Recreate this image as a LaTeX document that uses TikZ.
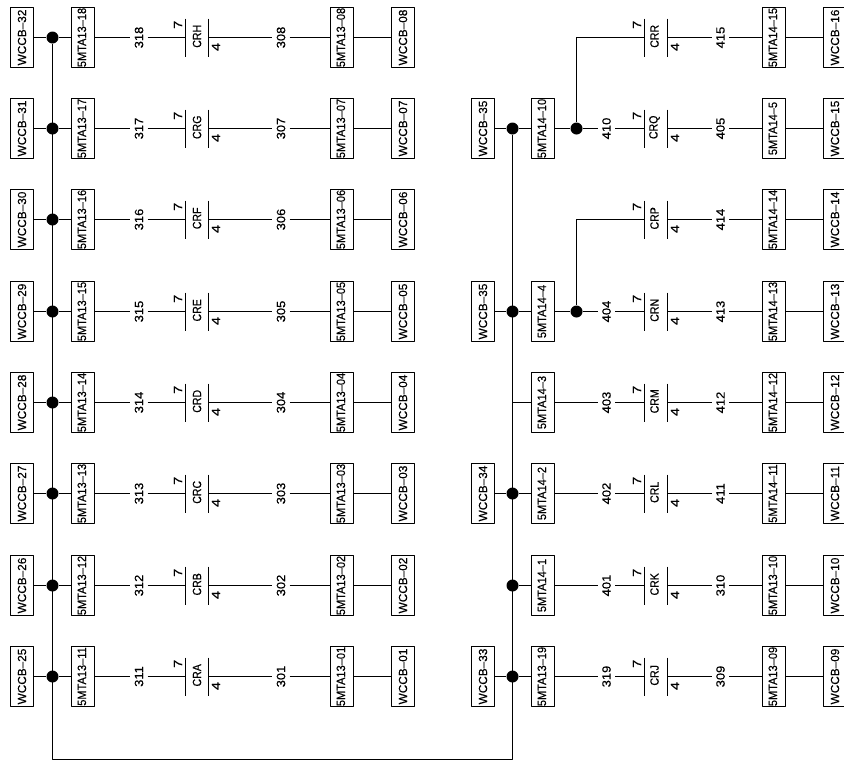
\documentclass[tikz,border=0pt]{standalone}
\usepackage{fontspec}
\setmainfont{Liberation Sans}
\newfontfamily\wcfont{Liberation Sans}[FakeBold=0.25]
\newfontfamily\mtfont{Liberation Sans}[FakeBold=0.25,FakeStretch=0.92]
\newfontfamily\wirefont{Liberation Sans}[FakeBold=0.25,FakeStretch=1.08]
\newfontfamily\pinfont{Liberation Sans}[FakeBold=0.25,FakeStretch=1.22]
\newfontfamily\crfont{Liberation Sans}[FakeBold=0.25,FakeStretch=0.88]
\tikzset{
  wcbox/.style={draw,rotate=90,minimum width=60pt,minimum height=23pt,inner sep=0pt,font=\wcfont\fontsize{11.8}{12}\selectfont},
  mtbox/.style={wcbox,text height=8pt,text depth=2pt,font=\mtfont\fontsize{12}{12}\selectfont},
  wirelab/.style={rotate=90,inner sep=0pt,minimum height=16pt,font=\wirefont\fontsize{12}{13}\selectfont},
  pinlab/.style={rotate=90,inner sep=0pt,font=\pinfont\fontsize{12}{13}\selectfont},
  crlab/.style={rotate=90,inner sep=0pt,font=\crfont\fontsize{12}{13}\selectfont},
  dotj/.style={circle,fill=black,inner sep=0pt,minimum size=12pt},
}
\begin{document}
\begin{tikzpicture}[x=1pt,y=-1pt,line width=1.2pt,line join=round]
  \useasboundingbox (0,0) rectangle (844,761);
  \def\ytop{37.2} \def\ystep{91.35}
  \coordinate (bl) at (52.5,759.5);
  \coordinate (br) at (512.5,759.5);
  % left column
  \foreach \i/\wa/\ma/\la/\cr/\lb/\mb/\wb in {1/32/18/318/CRH/308/08/08,2/31/17/317/CRG/307/07/07,
      3/30/16/316/CRF/306/06/06,4/29/15/315/CRE/305/05/05,5/28/14/314/CRD/304/04/04,
      6/27/13/313/CRC/303/03/03,7/26/12/312/CRB/302/02/02,8/25/11/311/CRA/301/01/01}{
    \pgfmathsetmacro\y{floor(\ytop+\ystep*(\i-1))+0.5}
    \node[wcbox] (wl\i) at (22,\y) {WCCB–\wa};
    \node[dotj] (jl\i) at (52.5,\y) {};
    \node[mtbox] (ml\i) at (83,\y) {5MTA13–\ma};
    \node[wirelab] (al\i) at (139,\y) {\la};
    \coordinate (pl\i) at (185.5,\y);
    \coordinate (ql\i) at (208.5,\y);
    \node[pinlab] (sl\i) at (178,\y-12.7) {7};
    \node[crlab] (cl\i) at (197,\y-1.2) {\cr};
    \node[pinlab] (fl\i) at (216,\y+9.5) {4};
    \node[wirelab] (bl\i) at (281,\y) {\lb};
    \node[mtbox] (nl\i) at (342,\y) {5MTA13–\mb};
    \node[wcbox] (xl\i) at (403,\y) {WCCB–\wb};
    \draw (wl\i) -- (jl\i) -- (ml\i) -- (al\i) -- (pl\i);
    \draw (ql\i) -- (bl\i) -- (nl\i) -- (xl\i);
    \draw ([yshift=19pt]pl\i) -- ([yshift=-19pt]pl\i);
    \draw ([yshift=19pt]ql\i) -- ([yshift=-19pt]ql\i);
  }
  % right column, contacts
  \foreach \i/\cr/\lb/\mb/\wb in {1/CRR/415/14–15/16,2/CRQ/405/14–5/15,3/CRP/414/14–14/14,4/CRN/413/14–13/13,
      5/CRM/412/14–12/12,6/CRL/411/14–11/11,7/CRK/310/13–10/10,8/CRJ/309/13–09/09}{
    \pgfmathsetmacro\y{floor(\ytop+\ystep*(\i-1))+0.5}
    \coordinate (pr\i) at (644.5,\y);
    \coordinate (qr\i) at (667.5,\y);
    \node[pinlab] (sr\i) at (637,\y-12.7) {7};
    \node[crlab] (cr\i) at (654.5,\y-1.2) {\cr};
    \node[pinlab] (fr\i) at (675,\y+9.5) {4};
    \node[wirelab] (br\i) at (720.5,\y) {\lb};
    \node[mtbox] (nr\i) at (774,\y) {5MTA\mb};
    \node[wcbox] (xr\i) at (835,\y) {WCCB–\wb};
    \draw (qr\i) -- (br\i) -- (nr\i) -- (xr\i);
    \draw ([yshift=19pt]pr\i) -- ([yshift=-19pt]pr\i);
    \draw ([yshift=19pt]qr\i) -- ([yshift=-19pt]qr\i);
  }
  % right column, feed side
  \foreach \i/\ma/\la in {2/14–10/410,4/14–4/404,5/14–3/403,6/14–2/402,7/14–1/401,8/13–19/319}{
    \pgfmathsetmacro\y{floor(\ytop+\ystep*(\i-1))+0.5}
    \node[mtbox] (mr\i) at (543,\y) {5MTA\ma};
    \node[wirelab] (ar\i) at (606.5,\y) {\la};
  }
  \foreach \i/\wa in {2/35,4/35,6/34,8/33}{
    \pgfmathsetmacro\y{floor(\ytop+\ystep*(\i-1))+0.5}
    \node[wcbox] (wr\i) at (483,\y) {WCCB–\wa};
    \node[dotj] (jr\i) at (512.5,\y) {};
    \draw (wr\i) -- (jr\i) -- (mr\i);
  }
  \node[dotj] (jr7) at (512.5,585.5) {};
  \coordinate (jr5) at (512.5,402.5);
  \node[dotj] (kr2) at (576.5,128.5) {};
  \node[dotj] (kr4) at (576.5,311.5) {};
  \draw (mr2) -- (kr2) -- (ar2) -- (pr2);
  \draw (mr4) -- (kr4) -- (ar4) -- (pr4);
  \draw (kr2) |- (pr1);
  \draw (kr4) |- (pr3);
  \draw (jr5) -- (mr5) -- (ar5) -- (pr5);
  \draw (mr6) -- (ar6) -- (pr6);
  \draw (jr7) -- (mr7) -- (ar7) -- (pr7);
  \draw (mr8) -- (ar8) -- (pr8);
  % bus
  \draw (jl1) -- (bl) -- (br) -- (jr2);
\end{tikzpicture}
\end{document}
